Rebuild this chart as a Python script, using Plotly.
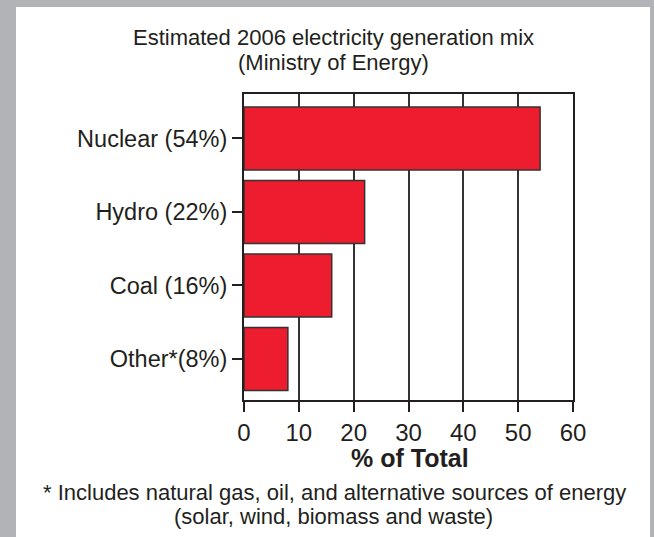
import plotly.graph_objects as go

categories = ["Nuclear (54%)", "Hydro (22%)", "Coal (16%)", "Other*(8%)"]
values = [54, 22, 16, 8]
x_ticks = [0, 10, 20, 30, 40, 50, 60]

title_lines = ["Estimated 2006 electricity generation mix", "(Ministry of Energy)"]
x_title = "% of Total"
footnote_lines = ["* Includes natural gas, oil, and alternative sources of energy",
                  "(solar, wind, biomass and waste)"]

W, H = 654, 537
L, R, T, B = 244, 573, 94, 400
FONT = "Liberation Sans"
DARK = "#231f20"

def px(x):
    return (x - L) / (R - L)

def py(y):
    return (B - y) / (B - T)

fig = go.Figure()
fig.add_trace(go.Bar(
    y=categories, x=values, orientation="h", width=0.857,
    marker=dict(color="#ed1c2e", line=dict(color="#333333", width=1.5)),
))

fig.update_layout(
    width=W, height=H,
    margin=dict(l=L, r=W - R, t=T, b=H - B, pad=0),
    paper_bgcolor="#b1b3b6", plot_bgcolor="white",
    showlegend=False,
    font=dict(family=FONT, color=DARK),
    shapes=[dict(type="rect", xref="paper", yref="paper",
                 x0=px(16), x1=px(650), y0=py(537), y1=py(7),
                 fillcolor="white", line=dict(width=0), layer="below")],
)
fig.update_xaxes(
    range=[0, 60], tickvals=x_ticks, ticks="outside", ticklen=10, tickwidth=2,
    tickcolor=DARK, showline=True, linecolor=DARK, linewidth=2, mirror=True,
    showgrid=True, gridcolor="#333333", gridwidth=2, zeroline=False,
    tickfont=dict(size=24, family=FONT, color=DARK),
)
fig.update_yaxes(
    range=[3.558, -0.605], ticks="outside", ticklen=10, tickwidth=2,
    tickcolor=DARK, showline=True, linecolor=DARK, linewidth=2, mirror=True,
    showgrid=False, tickfont=dict(size=23.5, family=FONT, color=DARK),
)

ann = []
ann.append(dict(text=title_lines[0], x=px(333), y=py(38), font=dict(size=22)))
ann.append(dict(text=title_lines[1], x=px(333), y=py(63), font=dict(size=22)))
ann.append(dict(text="<b>" + x_title + "</b>", x=px(410), y=py(458), font=dict(size=25)))
ann.append(dict(text=footnote_lines[0], x=px(334), y=py(492), font=dict(size=22)))
ann.append(dict(text=footnote_lines[1], x=px(333), y=py(516), font=dict(size=22)))
for a in ann:
    a.update(xref="paper", yref="paper", showarrow=False, xanchor="center", yanchor="middle")
    a["font"].update(family=FONT, color=DARK)
fig.update_layout(annotations=ann)

fig.write_html("out.html", config={"displayModeBar": False},
               post_script="document.body.style.margin='0';document.body.style.overflow='hidden';")
